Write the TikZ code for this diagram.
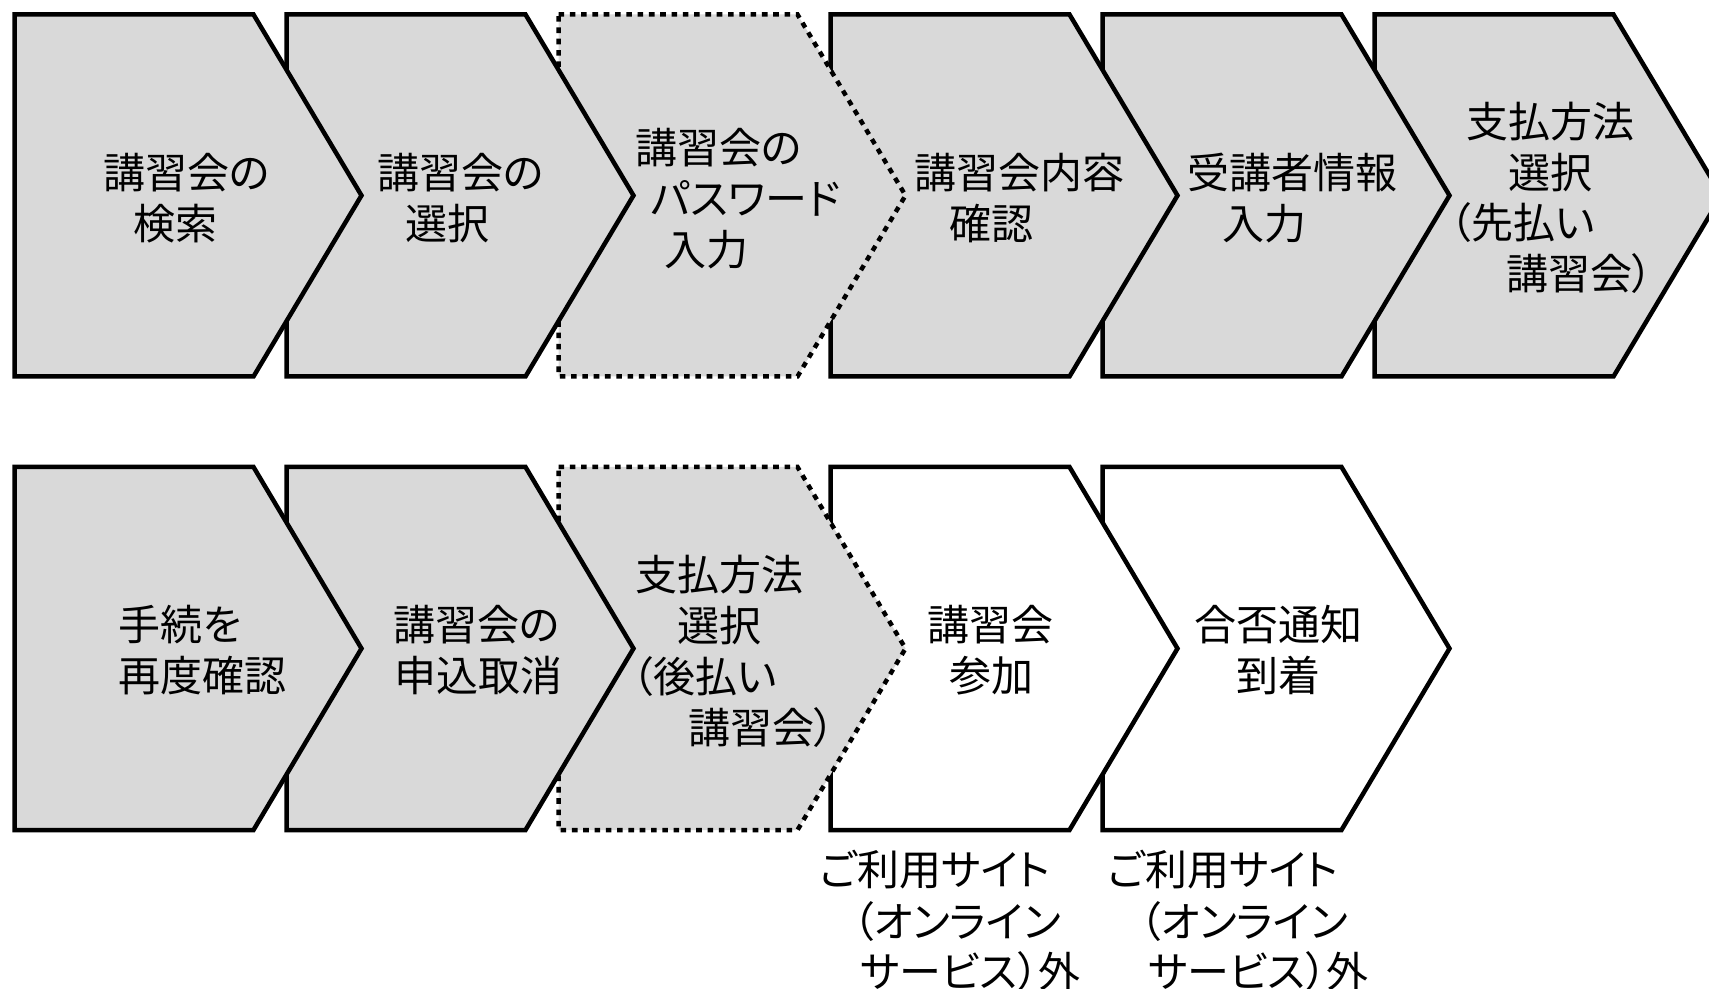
\documentclass[tikz,border=0pt]{standalone}
\usepackage{fontspec}
\setmainfont[RawFeature=+palt]{Noto Sans CJK JP}
\definecolor{boxgray}{HTML}{D9D9D9}
\tikzset{
  chevbase/.style={line width=2.25pt, line join=miter, miter limit=10, draw=black},
  grayfill/.style={chevbase, fill=boxgray},
  whitefill/.style={chevbase, fill=white},
  dotline/.style={dash pattern=on 2.8pt off 2.85pt},
  lbl/.style={anchor=west, inner sep=0pt, outer sep=0pt, text height=18.48pt, text depth=2.52pt,
              font=\fontsize{21}{25}\selectfont}
}
\newcommand\chev[4]{\draw[#4] (#1,#2) -- (#1+239,#2) -- (#1+347,{(#2+#3)/2}) -- (#1+239,#3) -- (#1,#3) -- cycle;}
\begin{document}
\begin{tikzpicture}[x=0.5pt,y=-0.5pt]
\useasboundingbox (0,0) rectangle (1709,989);
\clip (0,0) rectangle (1709,989);
% row 1 (drawn right to left so left shapes lie on top)
\chev{1374.5}{14.5}{376.5}{grayfill}
\chev{1102.5}{14.5}{376.5}{grayfill}
\chev{830.5}{14.5}{376.5}{grayfill}
\chev{558.5}{14.5}{376.5}{grayfill,dotline}
\chev{286.5}{14.5}{376.5}{grayfill}
\chev{14.5}{14.5}{376.5}{grayfill}
% row 2
\chev{1102.5}{467}{830}{whitefill}
\chev{830.5}{467}{830}{whitefill}
\chev{558.5}{467}{830}{grayfill,dotline}
\chev{286.5}{467}{830}{grayfill}
\chev{14.5}{467}{830}{grayfill}
% texts row 1
\node[lbl] (a1) at (103.5,173) {講習会の};
\node[lbl] (a2) at (133.5,224) {検索};
\node[lbl] (b1) at (377,173) {講習会の};
\node[lbl] (b2) at (405.5,224) {選択};
\node[lbl] (c1) at (635.5,148) {講習会の};
\node[lbl] (c2) at (651,199) {パスワード};
\node[lbl] (c3) at (664.5,249.5) {入力};
\node[lbl] (d1) at (914.5,173) {講習会内容};
\node[lbl] (d2) at (949.5,224) {確認};
\node[lbl] (e1) at (1187,173) {受講者情報};
\node[lbl] (e2) at (1222,224) {入力};
\node[lbl] (f1) at (1466,122) {支払方法};
\node[lbl] (f2) at (1508,172.5) {選択};
\node[lbl] (f3) at (1450,223) {（先払い};
\node[lbl] (f4) at (1506,273.5) {講習会）};
% texts row 2
\node[lbl] (g1) at (118.5,625) {手続を};
\node[lbl] (g2) at (118.5,676) {再度確認};
\node[lbl] (h1) at (393,625) {講習会の};
\node[lbl] (h2) at (394,676) {申込取消};
\node[lbl] (i1) at (635,575) {支払方法};
\node[lbl] (i2) at (677,626) {選択};
\node[lbl] (i3) at (632,677) {（後払い};
\node[lbl] (i4) at (688,728) {講習会）};
\node[lbl] (j1) at (927,625) {講習会};
\node[lbl] (j2) at (949,676) {参加};
\node[lbl] (k1) at (1194.5,625) {合否通知};
\node[lbl] (k2) at (1236,676) {到着};
% notes below
\node[lbl] (l1) at (820,870) {ご利用サイト};
\node[lbl] (l2) at (853,922) {（オンライン};
\node[lbl] (l3) at (860.5,972) {サービス）外};
\node[lbl] (m1) at (1108,870) {ご利用サイト};
\node[lbl] (m2) at (1140,922) {（オンライン};
\node[lbl] (m3) at (1148.5,972) {サービス）外};
\end{tikzpicture}
\end{document}
